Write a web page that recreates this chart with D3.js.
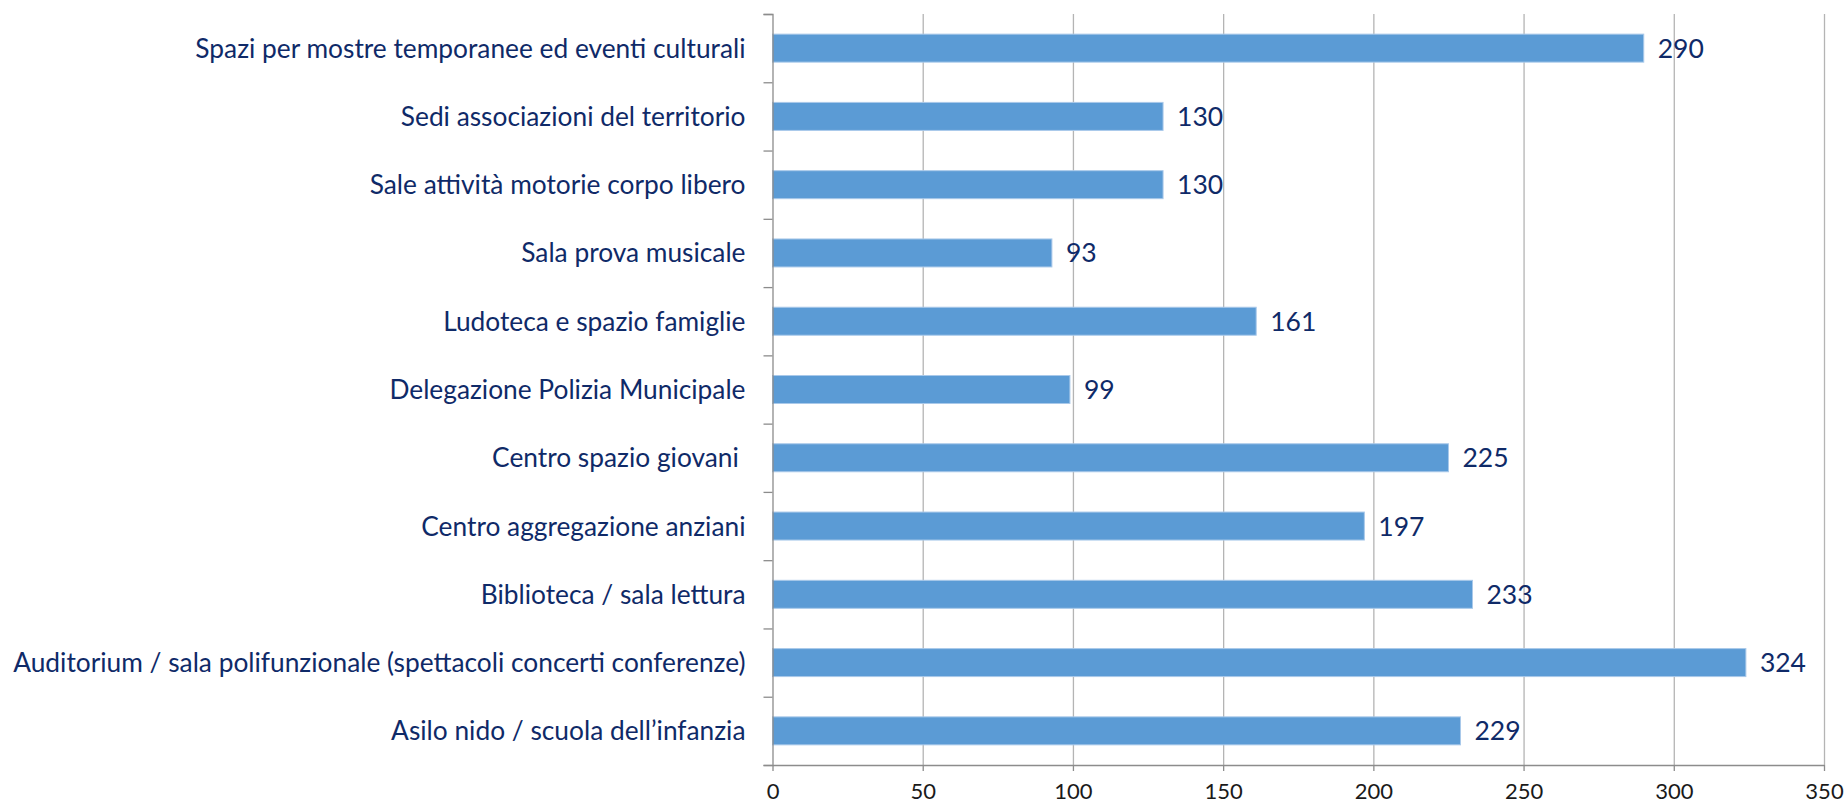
<!DOCTYPE html>
<html>
<head>
<meta charset="utf-8">
<script src="https://cdn.jsdelivr.net/npm/d3@7"></script>
<style>
  html, body { margin: 0; padding: 0; background: #fff; }
  text { font-family: Lato, "Open Sans", sans-serif; }
</style>
</head>
<body>
<div id="chart"></div>
<script>
  // categories from top to bottom, as in the picture
  var categorie = [
    "Spazi per mostre temporanee ed eventi culturali",
    "Sedi associazioni del territorio",
    "Sale attività motorie corpo libero",
    "Sala prova musicale",
    "Ludoteca e spazio famiglie",
    "Delegazione Polizia Municipale",
    "Centro spazio giovani ",
    "Centro aggregazione anziani",
    "Biblioteca / sala lettura",
    "Auditorium / sala polifunzionale (spettacoli concerti conferenze)",
    "Asilo nido / scuola dell\u2019infanzia"
  ];
  var valori = [290, 130, 130, 93, 161, 99, 225, 197, 233, 324, 229];
  var tickValori = [0, 50, 100, 150, 200, 250, 300, 350];

  var W = 1847, H = 805;
  var margin = { top: 14, right: 23, bottom: 40, left: 772.5 };
  var w = W - margin.left - margin.right;
  var h = H - margin.top - margin.bottom;

  var svg = d3.select('#chart').append('svg')
      .attr('width', W)
      .attr('height', H);

  var g = svg.append('g')
      .attr('transform', 'translate(' + margin.left + ',' + margin.top + ')');

  var x = d3.scaleLinear().domain([0, 350]).range([0, w]);
  var y = d3.scaleBand().domain(categorie).range([0, h]).paddingInner(0.59).paddingOuter(0.295);
  var yLine = d3.scaleLinear().domain([0, categorie.length]).range([0, h]);

  // vertical gridlines
  g.selectAll('.grid').data(tickValori.slice(1)).enter().append('line')
      .attr('class', 'grid')
      .attr('x1', d => x(d) + 0.5).attr('x2', d => x(d) + 0.5)
      .attr('y1', 0).attr('y2', h)
      .attr('stroke', '#b4b4b4').attr('stroke-width', 1.3);

  // bars
  g.selectAll('.bar').data(valori).enter().append('rect')
      .attr('class', 'bar')
      .attr('x', 0)
      .attr('y', (d, i) => y(categorie[i]))
      .attr('width', d => x(d))
      .attr('height', y.bandwidth())
      .attr('fill', '#5b9bd5')
      .attr('stroke', '#a9c9ea')
      .attr('stroke-width', 1);

  // value labels
  g.selectAll('.val').data(valori).enter().append('text')
      .attr('class', 'val')
      .attr('x', d => x(d) + 14)
      .attr('y', (d, i) => y(categorie[i]) + y.bandwidth() / 2)
      .attr('dy', '0.36em')
      .attr('fill', '#0f2a68')
      .style('font-size', '26.5px')
      .text(d => d);

  // left axis: ticks on the band boundaries
  var yAxis = g.append('g')
      .call(d3.axisLeft(yLine).tickValues(d3.range(categorie.length + 1)).tickSize(9).tickFormat(''));
  yAxis.select('.domain').attr('stroke', '#8c8c8c').attr('stroke-width', 1.3);
  yAxis.selectAll('.tick line').attr('stroke', '#8c8c8c').attr('stroke-width', 1.3);

  // category labels
  g.selectAll('.cat').data(categorie).enter().append('text')
      .attr('class', 'cat')
      .attr('x', -27)
      .attr('y', d => y(d) + y.bandwidth() / 2)
      .attr('dy', '0.36em')
      .attr('text-anchor', 'end')
      .attr('fill', '#0f2a68')
      .style('font-size', '26.3px')
      .style('white-space', 'pre')
      .text(d => d);

  // bottom axis
  var xAxis = g.append('g')
      .attr('transform', 'translate(0,' + h + ')')
      .call(d3.axisBottom(x).tickValues(tickValori).tickSize(6).tickPadding(12).tickSizeOuter(0));
  xAxis.select('.domain').attr('stroke', '#8c8c8c').attr('stroke-width', 1.3);
  xAxis.selectAll('.tick line').attr('stroke', '#8c8c8c').attr('stroke-width', 1.3);
  xAxis.selectAll('.tick text')
      .attr('fill', '#1a1a1a')
      .style('font-family', 'Lato, "Open Sans", sans-serif')
      .style('font-size', '22px');
</script>
</body>
</html>
